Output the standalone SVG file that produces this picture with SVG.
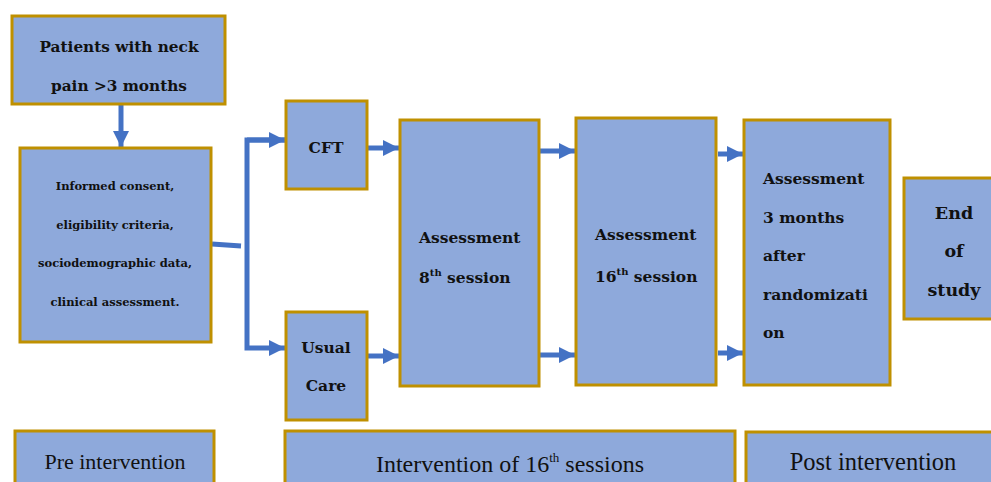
<svg xmlns="http://www.w3.org/2000/svg" width="991" height="482" viewBox="0 0 991 482">
<style>
.box{fill:#8EA9DB;stroke:#BF9000;stroke-width:3}
.t{font-family:"DejaVu Serif","Liberation Serif",serif;font-weight:bold;fill:#111;font-size:15.5px}
.s{font-size:11.5px}
.b{font-family:"Liberation Serif",serif;font-weight:normal;font-size:22px;fill:#111}
.c{text-anchor:middle}
.con{stroke:#4472C4;stroke-width:5;fill:none}
</style>
<defs>
<marker id="ah" markerUnits="userSpaceOnUse" markerWidth="18" markerHeight="18" refX="16" refY="8" orient="auto">
<path d="M0,0 L16,8 L0,16 Z" fill="#4472C4"/>
</marker>
</defs>
<rect width="991" height="482" fill="#fff"/>
<g id="connectors">
<line class="con" x1="121" y1="105" x2="121" y2="147" marker-end="url(#ah)"/>
<line class="con" x1="212" y1="244" x2="241" y2="246"/>
<path class="con" d="M285,140 H247 V348 H285" marker-end="url(#ah)"/>
<path class="con" d="M247,140 H285" marker-end="url(#ah)"/>
<line class="con" x1="368" y1="148" x2="399" y2="148" marker-end="url(#ah)"/>
<line class="con" x1="368" y1="356" x2="399" y2="356" marker-end="url(#ah)"/>
<line class="con" x1="540" y1="151" x2="575" y2="151" marker-end="url(#ah)"/>
<line class="con" x1="540" y1="355" x2="575" y2="355" marker-end="url(#ah)"/>
<line class="con" x1="718" y1="154" x2="743" y2="154" marker-end="url(#ah)"/>
<line class="con" x1="718" y1="353" x2="743" y2="353" marker-end="url(#ah)"/>
</g>
<g id="patients">
<rect class="box" x="12" y="16" width="213" height="88"/>
<text class="t c" x="119" y="52" style="font-size:15.3px">Patients with neck</text>
<text class="t c" x="119" y="91" style="font-size:15.3px">pain &gt;3 months</text>
</g>
<g id="consent">
<rect class="box" x="20" y="148" width="191" height="194"/>
<text class="t s c" x="115" y="190">Informed consent,</text>
<text class="t s c" x="115" y="229">eligibility criteria,</text>
<text class="t s c" x="115" y="267">sociodemographic data,</text>
<text class="t s c" x="115" y="306">clinical assessment.</text>
</g>
<g id="cft">
<rect class="box" x="286" y="101" width="81" height="88"/>
<text class="t c" x="326" y="153">CFT</text>
</g>
<g id="usual">
<rect class="box" x="286" y="312" width="81" height="108"/>
<text class="t c" x="326" y="353">Usual</text>
<text class="t c" x="326" y="391">Care</text>
</g>
<g id="assess8">
<rect class="box" x="400" y="120" width="139" height="266"/>
<text class="t" x="419" y="243">Assessment</text>
<text class="t" x="419" y="283">8<tspan dy="-7" font-size="10">th</tspan><tspan dy="7"> session</tspan></text>
</g>
<g id="assess16">
<rect class="box" x="576" y="118" width="140" height="267"/>
<text class="t" x="595" y="240">Assessment</text>
<text class="t" x="595" y="282">16<tspan dy="-7" font-size="10">th</tspan><tspan dy="7"> session</tspan></text>
</g>
<g id="assess3m">
<rect class="box" x="744" y="120" width="146" height="265"/>
<text class="t" x="763" y="184">Assessment</text>
<text class="t" x="763" y="223">3 months</text>
<text class="t" x="763" y="261">after</text>
<text class="t" x="763" y="300">randomizati</text>
<text class="t" x="763" y="338">on</text>
</g>
<g id="end">
<rect class="box" x="904" y="178" width="90" height="141"/>
<text class="t c" x="954" y="219" style="font-size:17.5px">End</text>
<text class="t c" x="954" y="257" style="font-size:17.5px">of</text>
<text class="t c" x="954" y="296" style="font-size:17.5px">study</text>
</g>
<g id="pre">
<rect class="box" x="15" y="431" width="199" height="60"/>
<text class="b c" x="115" y="469">Pre intervention</text>
</g>
<g id="intervention">
<rect class="box" x="285" y="431" width="450" height="60"/>
<text class="b c" x="510" y="472" style="font-size:24px">Intervention of 16<tspan dy="-10" font-size="13">th</tspan><tspan dy="10"> sessions</tspan></text>
</g>
<g id="post">
<rect class="box" x="746" y="432" width="250" height="60"/>
<text class="b c" x="873" y="470" style="font-size:24.5px">Post intervention</text>
</g>
</svg>
